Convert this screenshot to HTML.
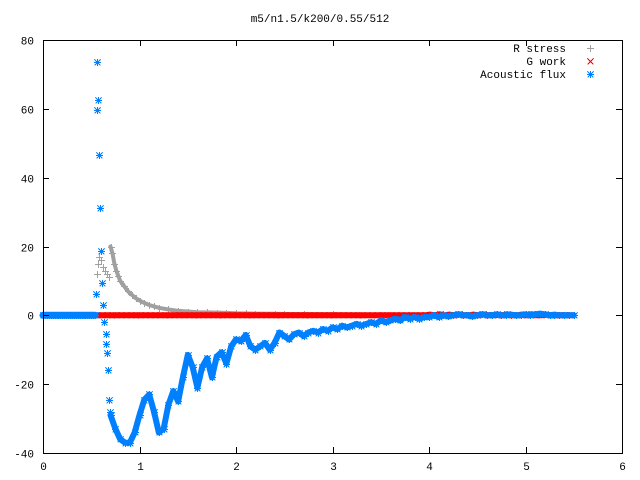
<!DOCTYPE html>
<html><head><meta charset="utf-8"><style>
body{margin:0;background:#fff}
svg{display:block;font-family:"Liberation Mono","DejaVu Sans Mono",monospace;font-size:11px}
</style></head><body>
<svg id="chart" width="640" height="480" xmlns="http://www.w3.org/2000/svg">
<rect width="640" height="480" fill="#fff"/>
<text x="320" y="22" text-anchor="middle">m5/n1.5/k200/0.55/512</text>
<g id="marks" shape-rendering="crispEdges"></g>
<g id="axes" shape-rendering="crispEdges"></g>
<g id="legend"></g>
</svg>
<script>
const xTicks=[0,1,2,3,4,5,6];
const yTicks=[80,60,40,20,0,-20,-40];
const blueEarlyX=[0.546,0.556,0.563,0.573,0.584,0.594,0.60,0.61,0.62,0.63,0.65,0.656,0.663,0.677,0.687,0.697];
const blueEarlyY=[6.2,59.6,73.6,62.7,46.5,31.1,18.7,9.4,3,-2,-5.4,-8.3,-11,-15.9,-24.6,-28];
const blueZeroX=[0,0.02,0.04,0.06,0.08,0.1,0.12,0.14,0.16,0.18,0.2,0.22,0.24,0.26,0.28,0.3,0.32,0.34,0.36,0.38,0.4,0.42,0.44,0.46,0.48,0.5,0.52,0.54];
const blueZeroY=[0,0,0,0,0,0,0,0,0,0,0,0,0,0,0,0,0,0,0,0,0,0,0,0,0,0,0,0];
const blueStart=0.70, blueStep=0.05;
const blueY=[-29,-33,-36,-37,-37,-34,-29,-24.5,-23,-28,-34,-33,-26,-22,-25,-18,-11.5,-15,-21,-15,-12.5,-18,-12,-10.7,-14,-9,-7,-7.5,-5.7,-9,-10,-9,-8,-10,-8,-5,-6,-7,-5.5,-5,-6,-5,-4.5,-5,-4,-4.5,-3.5,-4,-3,-3.5,-3,-2.5,-3,-2.5,-2,-2.5,-1.5,-2,-1.5,-1,-1.5,-0.5,-1,-0.5,-1,-0.5,-0.5,0,-0.5,0,-0.3,0,0.3,0,0,-0.3,0,0.3,0,0,0.3,0,0,0.2,0,0,0.3,0,0.3,0.5,0.3,0,0.2,0,0,0,0];
const grayX=[0.56,0.57,0.58,0.6,0.62,0.64,0.66,0.68,0.7,0.72,0.74,0.76,0.78,0.8,0.84,0.88,0.92,0.96,1.0,1.05,1.1,1.15,1.2,1.3,1.4,1.5,1.6,1.7,1.8,1.9,2.0,2.1,2.2,2.4,2.5,2.7,3.0,3.5,4.0];
const grayY=[12,15,17,16,14,13,12,11,20,18,15,13,11.5,10,8.5,7,6,5,4.3,3.6,3,2.6,2.2,1.7,1.3,1.1,0.9,0.85,0.8,0.7,0.6,0.55,0.5,0.45,0.4,0.35,0.3,0.2,0.1];
const redStart=0.56, redStep=0.05;
const redY=[0,0,0,0,0,0,0,0,0,0,0,0,0,0,0,0,0,0,0,0,0,0,0,0,0,0,0,0,0,0,0,0,0,0,0,0,0,0,0,0,0,0,0,0,0,0,0,0,0,0,0,0,0,0,0,0,0,0,0,0,0,0,0,0,0,0,0,0,0,0.2,0,0.3,0,0.2,0,0.3,0,0,0.2,0,0.3,0,0,0.2,0,0.3,0,0,0.2,0,0.3,0,0,0.2,0,0,0,0,0];
const L=43,R=622,T=40,B=453;
const sx=v=>L+(v-0)/(6-0)*(R-L);
const sy=v=>B-(v+40)/(120)*(B-T);
const NS="http://www.w3.org/2000/svg";
const marks=document.getElementById('marks');
function mk(tag,attrs,parent){const e=document.createElementNS(NS,tag);for(const k in attrs)e.setAttribute(k,attrs[k]);parent.appendChild(e);return e;}
function plusD(x,y){x=Math.round(x)+0.5;y=Math.round(y)+0.5;return `M${x-3.5} ${y}H${x+3.5}M${x} ${y-3.5}V${y+3.5}`;}
function crossD(x,y){x=Math.round(x)+0.5;y=Math.round(y)+0.5;return `M${x-3} ${y-3}L${x+3} ${y+3}M${x-3} ${y+3}L${x+3} ${y-3}`;}
function band(xs,ys,color,w,name){
  const pts=ys.map((v,i)=>sx(xs[i]).toFixed(1)+','+sy(v).toFixed(1)).join(' ');
  const p=mk('polyline',{points:pts,stroke:color,'stroke-width':w,fill:'none','stroke-linejoin':'round','stroke-linecap':'round','shape-rendering':'auto'},marks);
  
  
}
function drawSeries(xs,ys,kind,color,name){
  let d='';
  for(let i=0;i<ys.length;i++){const px=sx(xs[i]),py=sy(ys[i]);
    if(kind==='plus')d+=plusD(px,py);else if(kind==='cross')d+=crossD(px,py);else d+=plusD(px,py)+crossD(px,py);}
  const p=mk('path',{d:d,stroke:color,'stroke-width':1,fill:'none'},marks);
  
  
}
band(grayX.slice(8),grayY.slice(8),'#a0a0a0',4,'r-stress-band');
drawSeries(grayX,grayY,'plus','#a0a0a0','r-stress-series');
const rx=redY.map((_,i)=>redStart+i*redStep);
band(rx,redY,'#ff0000',6,'g-work-band');
drawSeries(rx,redY,'cross','#ff0000','g-work-series');
const bx=blueY.map((_,i)=>blueStart+i*blueStep);
band(blueZeroX,blueZeroY,'#0080ff',7,'acoustic-flux-zero-band');
band(bx,blueY,'#0080ff',6,'acoustic-flux-band');
drawSeries(blueZeroX.concat(blueEarlyX,bx),blueZeroY.concat(blueEarlyY,blueY),'star','#0080ff','acoustic-flux-series');
const axes=document.getElementById('axes');
const fr=mk('rect',{x:L+0.5,y:T+0.5,width:R-L,height:B-T,fill:'none',stroke:'#000','stroke-width':1},axes);


xTicks.forEach(v=>{const x=Math.round(sx(v))+0.5;
  const t=mk('path',{d:`M${x} ${B}v-6M${x} ${T}v6`,stroke:'#000'},axes);
  
  
  const lb=mk('text',{x:x,y:470,'text-anchor':'middle'},axes);lb.textContent=v;
  
  });
yTicks.forEach(v=>{const y=Math.round(sy(v))+0.5;
  const t=mk('path',{d:`M${L} ${y}h6M${R} ${y}h-6`,stroke:'#000'},axes);
  
  
  const lb=mk('text',{x:34,y:y+4,'text-anchor':'end'},axes);lb.textContent=v;
  
  });
const legend=document.getElementById('legend');
[['R stress','plus','#a0a0a0'],['G work','cross','#ff0000'],['Acoustic flux','star','#0080ff']].forEach((e,i)=>{
  const y=48+i*13;
  const g=mk('g',{},legend);
  
  
  const t=mk('text',{x:566,y:y+4,'text-anchor':'end'},g);t.textContent=e[0];
  let d=e[1]==='plus'?plusD(590,y):e[1]==='cross'?crossD(590,y):plusD(590,y)+crossD(590,y);
  mk('path',{d:d,stroke:e[2],fill:'none','shape-rendering':'crispEdges'},g);
});
</script>
</body></html>
